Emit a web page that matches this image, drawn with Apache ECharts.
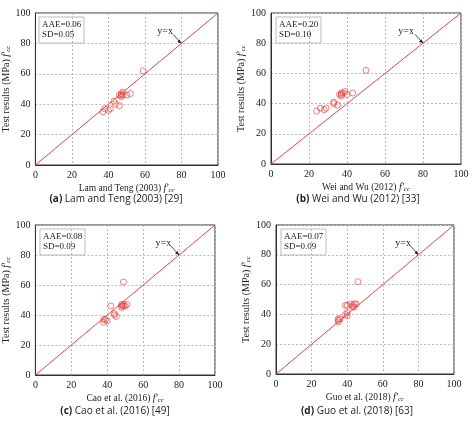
<!DOCTYPE html>
<html><head><meta charset="utf-8">
<script src="https://cdn.jsdelivr.net/npm/echarts@6/dist/echarts.min.js"></script>
<style>html,body{margin:0;padding:0;background:#fff}#c{width:474px;height:424px}</style>
</head><body><div id="c"></div>
<script>
const testValues = [35,37,36,37,42,40,39,45,46,47,46,48,46,47,62,46];
const lamTeng = [37,38,40,41,43,44,46,47,47,47,48,48,50,52,59,46];
const testValuesB = [35,37,36,37,40,41,39,46,45,47,46,47,48,46,47,62];
const weiWu = [24,26,28,29,33,33,35,36,37,37,37,38,39,40,43,50];
const testValuesC = [35,37,36,37,46,41,40,39,45,47,46,47,46,47,62,46];
const cao = [38,38,40,39,42,44,44,45,48,48,49,49,50,51,49,48];
const testValuesD = [35,36,37,37,40,39,41,46,46,47,46,45,47,47,62,45];
const guo = [35,35,36,35,39,40,40,39,40,42,43,44,44,45,46,43];
const xTicks = [0,20,40,60,80,100];
const panels = [
  {x: lamTeng, y: testValues, name: 'Lam and Teng (2003) ', aae: 'AAE=0.06', sd: 'SD=0.05', cap: ['(a)', ' Lam and Teng (2003) [29]']},
  {x: weiWu, y: testValuesB, name: 'Wei and Wu (2012)  ', aae: 'AAE=0.20', sd: 'SD=0.10', cap: ['(b)', ' Wei and Wu (2012) [33]']},
  {x: cao, y: testValuesC, name: 'Cao et al. (2016) ', aae: 'AAE=0.08', sd: 'SD=0.09', cap: ['(c)', ' Cao et al. (2016) [49]']},
  {x: guo, y: testValuesD, name: 'Guo et al. (2018)  ', aae: 'AAE=0.07', sd: 'SD=0.09', cap: ['(d)', ' Guo et al. (2018) [63]']}
];
const grids = [
  {left:34, top:13, width:184, height:152},
  {left:271, top:13, width:190, height:151},
  {left:35, top:225, width:180, height:150},
  {left:276, top:225, width:178, height:149}
];
const serif = 'Liberation Serif';
const rich = {i:{fontStyle:'italic', fontFamily:serif, fontSize:10, color:'#222'}, s:{fontStyle:'italic', fontFamily:serif, fontSize:7, color:'#222', verticalAlign:'bottom', padding:[4,0,0,0]}};
const option = {animation:false, grid: grids.map(g=>Object.assign({show:true, borderColor:'#333', borderWidth:1}, g)),
  xAxis: [], yAxis: [], series: [], graphic: []};
panels.forEach((p,k)=>{
  option.xAxis.push({gridIndex:k, min:0, max:100, interval:20, name:p.name.replace(/ +$/,' ')+'{i|f′}{s|cc}', nameLocation:'middle', nameGap:18,
    nameTextStyle:{fontFamily:serif, fontSize:9.5, color:'#222', rich},
    axisLine:{lineStyle:{color:'#333'}}, axisTick:{show:false}, axisLabel:{fontFamily:serif, fontSize:10, color:'#222', margin:5},
    splitLine:{lineStyle:{type:[2,2], color:'#bbb'}}});
  option.yAxis.push({gridIndex:k, min:0, max:100, interval:20, name:'Test results (MPa) {i|f′}{s|cc}', nameLocation:'middle', nameGap:22,
    nameTextStyle:{fontFamily:serif, fontSize:10, color:'#222', rich},
    axisLine:{lineStyle:{color:'#333'}}, axisTick:{show:false}, axisLabel:{fontFamily:serif, fontSize:10, color:'#222', margin:5},
    splitLine:{lineStyle:{type:[2,2], color:'#bbb'}}});
  option.series.push({type:'line', xAxisIndex:k, yAxisIndex:k, data:[[0,0],[100,100]], symbol:'none', lineStyle:{color:'#e0454a', width:1}});
  option.series.push({type:'scatter', xAxisIndex:k, yAxisIndex:k, data:p.x.map((v,i)=>[v,p.y[i]]), symbol:'circle', symbolSize:6,
    itemStyle:{color:'rgba(0,0,0,0)', borderColor:'#e53935', borderWidth:0.8}});
  const g = grids[k];
  option.graphic.push({type:'rect', shape:{x:g.left+5, y:g.top+4, width:45, height:26}, style:{fill:'#fff', stroke:'#bbb', lineWidth:1}});
  option.graphic.push({type:'text', x:g.left+8, y:g.top+7, style:{text:p.aae+'\n'+p.sd, font:'9px '+serif, fill:'#222', lineHeight:10}});
  const ax = g.left + g.width*0.8, ay = g.top + g.height*0.2;
  option.graphic.push({type:'text', x:g.left+g.width*0.67, y:g.top+g.height*0.09, style:{text:'y=x', font:'10px '+serif, fill:'#222'}});
  option.graphic.push({type:'line', shape:{x1:ax-8, y1:ay-9, x2:ax, y2:ay}, style:{stroke:'#222', lineWidth:0.8}});
  option.graphic.push({type:'polygon', shape:{points:[[ax,ay],[ax-4,ay-1.5],[ax-1.5,ay-4]]}, style:{fill:'#222'}});
  option.graphic.push({type:'text', x:g.left+g.width/2+(k%2?-8:-10), y:(k<2?199:411), style:{text:'{b|'+p.cap[0]+'}{n|'+p.cap[1]+'}', align:'center', verticalAlign:'middle',
    rich:{b:{font:'bold 10px "Open Sans"', fill:'#222'}, n:{font:'10px "Open Sans"', fill:'#222'}}}});
});
const chart = echarts.init(document.getElementById('c'));
chart.setOption(option);
</script></body></html>
